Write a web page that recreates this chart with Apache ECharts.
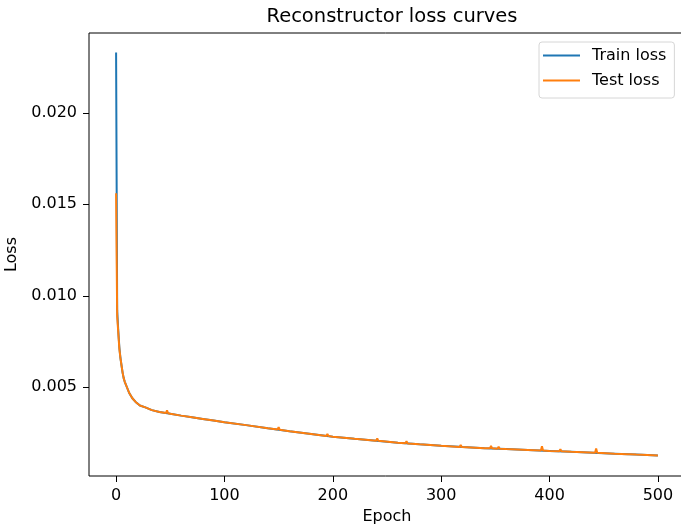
<!DOCTYPE html>
<html>
<head>
<meta charset="utf-8">
<script src="https://cdn.jsdelivr.net/npm/echarts@6/dist/echarts.min.js"></script>
<style>
  html, body { margin: 0; padding: 0; background: #fff; }
  #chartDiv { width: 681px; height: 527px; }
</style>
</head>
<body>
<div id="chartDiv"></div>
<script>
// values
var trainEpochs = [0, 1, 2, 3, 4, 5, 6, 7, 8, 10, 12, 15, 18, 22, 27, 33, 40, 50, 60, 70, 80, 90, 100,
  120, 140, 160, 180, 200, 220, 240, 260, 280, 300, 320, 340, 360, 380, 400, 420, 440, 460, 480, 500];
var trainLoss = [0.0233, 0.0092, 0.0081, 0.0072, 0.0066, 0.0062, 0.0058, 0.0055, 0.0053, 0.0050, 0.0047,
  0.0044, 0.0042, 0.0040, 0.0039, 0.00375, 0.00365, 0.00355, 0.00345, 0.00336, 0.00327, 0.00318, 0.00309,
  0.00293, 0.00276, 0.00260, 0.00245, 0.00230, 0.00218, 0.00207, 0.00197, 0.00188, 0.00180, 0.00173,
  0.00167, 0.00162, 0.00157, 0.00152, 0.00147, 0.00142, 0.00137, 0.00132, 0.00127];

var testEpochs = [0, 1, 2, 3, 4, 5, 6, 7, 8, 10, 12, 15, 18, 22, 27, 33, 40, 46, 47, 48, 50, 60, 70, 80, 90, 100,
  120, 140, 149, 150, 151, 160, 180, 194, 195, 196, 200, 220, 240, 241, 242, 260, 267, 268, 269, 280, 300,
  317, 318, 319, 340, 345, 346, 347, 352, 353, 354, 360, 380, 392, 393, 394, 400, 409, 410, 411, 420,
  442, 443, 444, 460, 472, 473, 474, 480, 500];
var testLoss = [0.0156, 0.0089, 0.0080, 0.0071, 0.0066, 0.0062, 0.0058, 0.0055, 0.0053, 0.0050, 0.0047,
  0.0044, 0.0042, 0.0040, 0.0039, 0.00375, 0.00365, 0.00359, 0.00374, 0.00358, 0.00355, 0.00345, 0.00336,
  0.00327, 0.00318, 0.00309, 0.00293, 0.00276, 0.00269, 0.00282, 0.00268, 0.00260, 0.00245, 0.00234,
  0.00245, 0.00233, 0.00230, 0.00218, 0.00208, 0.00220, 0.00207, 0.00197, 0.00194, 0.00205, 0.00193,
  0.00188, 0.00180, 0.00174, 0.00185, 0.00174, 0.00167, 0.00166, 0.00180, 0.00166, 0.00164, 0.00175,
  0.00164, 0.00162, 0.00157, 0.00154, 0.00178, 0.00154, 0.00152, 0.00150, 0.00162, 0.00150, 0.00147,
  0.00142, 0.00165, 0.00142, 0.00137, 0.00134, 0.00143, 0.00134, 0.00132, 0.00127];

var xTicks = [0, 100, 200, 300, 400, 500];
var yTicks = [0.005, 0.010, 0.015, 0.020];

function pairs(xs, ys) {
  var out = [];
  for (var i = 0; i < xs.length; i++) out.push([xs[i], ys[i]]);
  return out;
}

var font = 'DejaVu Sans';
option = {
  animation: false,
  backgroundColor: '#fff',
  title: {
    text: 'Reconstructor loss curves',
    left: 387, top: 2,
    textAlign: 'center',
    textStyle: { fontFamily: font, fontSize: 19.5, fontWeight: 'normal', color: '#000' }
  },
  legend: {
    orient: 'vertical',
    left: 539, top: 42,
    padding: [1, 8, 5, 4],
    itemGap: 0,
    itemWidth: 37, itemHeight: 2,
    icon: 'rect',
    backgroundColor: 'rgba(255,255,255,0.8)',
    borderColor: '#d6d6d6', borderWidth: 1, borderRadius: 3,
    textStyle: { fontFamily: font, fontSize: 16, color: '#000', lineHeight: 25, padding: [0, 0, 0, 7] },
    data: ['Train loss', 'Test loss']
  },
  grid: {
    left: 89, top: 33, bottom: 51, right: -4,
    containLabel: false, outerBoundsMode: 'none',
    show: true, borderColor: '#000', borderWidth: 1
  },
  xAxis: {
    type: 'value',
    min: -25, max: 525,
    name: 'Epoch', nameLocation: 'middle', nameGap: 33,
    nameTextStyle: { fontFamily: font, fontSize: 16, color: '#000' },
    axisLine: { show: false, onZero: false },
    axisTick: { show: true, length: 6, lineStyle: { color: '#000' }, customValues: xTicks },
    axisLabel: { fontFamily: font, fontSize: 16, color: '#000', margin: 12, customValues: xTicks },
    splitLine: { show: false }
  },
  yAxis: {
    type: 'value',
    min: 0.00015, max: 0.02436,
    name: 'Loss', nameLocation: 'middle', nameGap: 64,
    nameTextStyle: { fontFamily: font, fontSize: 16, color: '#000' },
    axisLine: { show: false, onZero: false },
    axisTick: { show: true, length: 6, lineStyle: { color: '#000' }, customValues: yTicks },
    axisLabel: {
      fontFamily: font, fontSize: 16, color: '#000', margin: 12, customValues: yTicks,
      formatter: function (v) { return v.toFixed(3); }
    },
    splitLine: { show: false }
  },
  series: [
    {
      name: 'Train loss', type: 'line', showSymbol: false,
      color: '#1f77b4', lineStyle: { width: 2, color: '#1f77b4' },
      data: pairs(trainEpochs, trainLoss)
    },
    {
      name: 'Test loss', type: 'line', showSymbol: false,
      color: '#ff7f0e', lineStyle: { width: 2, color: '#ff7f0e' },
      data: pairs(testEpochs, testLoss)
    }
  ]
};
var myChart = echarts.init(document.getElementById('chartDiv'));
myChart.setOption(option, true);
</script>
</body>
</html>
